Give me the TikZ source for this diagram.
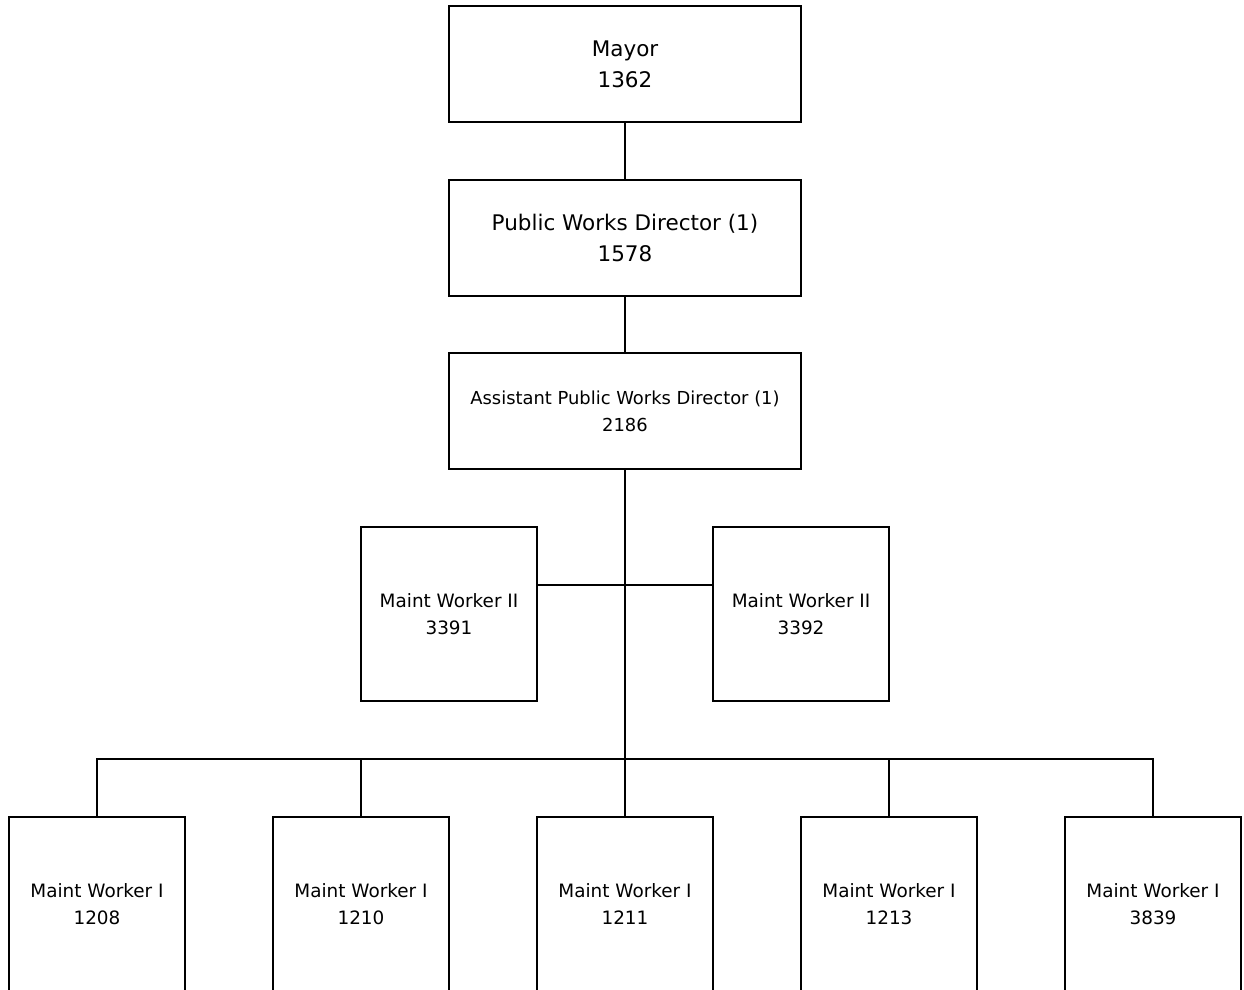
\documentclass[tikz,border=0pt]{standalone}
\usepackage{fontspec}
\setmainfont{DejaVu Sans}
\begin{document}
\begin{tikzpicture}[x=1pt,y=-1pt,
        bigbox/.style={draw, line width=2pt, minimum width=352pt, minimum height=116pt, align=center, inner sep=0pt},
        smallbox/.style={draw, line width=2pt, minimum width=176pt, minimum height=174pt, align=center, inner sep=0pt, font=\fontsize{18.4}{27}\selectfont},
        link/.style={line width=2pt}]
        \clip (0,0) rectangle (1244,989);

        % Top of the chain
        \node[bigbox, font=\fontsize{21.5}{31}\selectfont] (mayor) at (625,64) {Mayor\\1362};
        \node[bigbox, font=\fontsize{21.5}{31}\selectfont] (pwd) at (625,238) {Public Works Director (1)\\1578};
        \node[bigbox, font=\fontsize{17.9}{27}\selectfont] (apwd) at (625,411) {Assistant Public Works Director (1)\\2186};
        \draw[link] (mayor) -- (pwd);
        \draw[link] (pwd) -- (apwd);

        % Maint Worker II
        \node[smallbox] (mwa) at (449,614) {Maint Worker II\\3391};
        \node[smallbox] (mwb) at (801,614) {Maint Worker II\\3392};
        \coordinate (hub) at (625,585);
        \coordinate (bus) at (625,759);
        \draw[link] (apwd) -- (bus);
        \draw[link] (mwa.east |- hub) -- (mwb.west |- hub);

        % Maint Worker I
        \node[smallbox] (mw1) at (97,904) {Maint Worker I\\1208};
        \node[smallbox] (mw2) at (361,904) {Maint Worker I\\1210};
        \node[smallbox] (mw3) at (625,904) {Maint Worker I\\1211};
        \node[smallbox] (mw4) at (889,904) {Maint Worker I\\1213};
        \node[smallbox] (mw5) at (1153,904) {Maint Worker I\\3839};
        \draw[link, line cap=rect] (mw1.north |- bus) -- (mw5.north |- bus);
        \foreach \n in {mw1,mw2,mw3,mw4,mw5}
            \draw[link] (\n.north) -- (\n.north |- bus);
\end{tikzpicture}
\end{document}
